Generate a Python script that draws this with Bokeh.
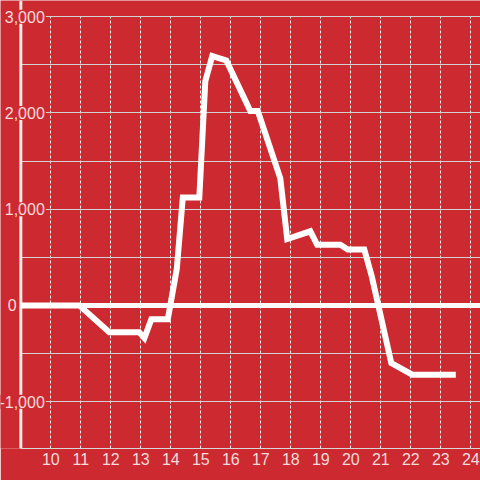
from bokeh.plotting import figure
from bokeh.models import Range1d, FixedTicker, Span
from bokeh.core.properties import value
from bokeh.embed import file_html
from bokeh.resources import INLINE

# ---- data ----
HOURS = [9, 10.95, 11.95, 12.95, 13.12, 13.35, 13.9, 14.2, 14.4, 14.95, 15.15, 15.38,
         15.85, 16.65, 16.9, 17.65, 17.88, 18.65, 18.88, 19.65, 19.9, 20.45, 20.7,
         21.35, 22.05, 23.5]
VALUES = [0, 0, -280, -280, -340, -145, -145, 380, 1120, 1120, 2330, 2590,
          2545, 2020, 2020, 1320, 690, 770, 630, 630, 580, 580, 300,
          -600, -720, -720]
X_TICKS = list(range(10, 25))
Y_TICKS = [-1000, 0, 1000, 2000, 3000]
Y_LABELS = ["-1,000", "0", "1,000", "2,000", "3,000"]
Y_GRID = [-1000, -500, 0, 500, 1000, 1500, 2000, 2500, 3000]

# ---- style ----
RED = "#cc2a30"
LABEL = "#f6dcdc"
FONT = "Liberation Sans"
AXIS_X = 9
X_START, X_END = 8.323, 24.323
Y_START, Y_END = -1487, 3168

p = figure(width=480, height=480, output_backend="svg", toolbar_location=None,
           x_range=Range1d(X_START, X_END), y_range=Range1d(Y_START, Y_END),
           y_axis_location=None,
           min_border_left=0, min_border_right=0, min_border_top=0, min_border_bottom=32,
           background_fill_color=RED, border_fill_color=RED, outline_line_color=None)

p.xaxis.ticker = FixedTicker(ticks=X_TICKS)
p.xaxis.bounds = (AXIS_X, X_END)
p.xaxis.axis_line_color = "#d6d6d6"
p.xaxis.axis_line_width = 1
p.xaxis.major_tick_line_color = None
p.xaxis.minor_tick_line_color = None
p.xaxis.major_tick_out = 0
p.xaxis.major_label_standoff = 4
p.xaxis.major_label_text_font = FONT
p.xaxis.major_label_text_font_size = "16px"
p.xaxis.major_label_text_color = LABEL

p.xgrid.ticker = FixedTicker(ticks=X_TICKS)
p.xgrid.grid_line_color = "#ececec"
p.xgrid.grid_line_width = 1
p.xgrid.grid_line_dash = "3 2"
p.xgrid.cross_bounds = (Y_START, 3000)

p.ygrid.ticker = FixedTicker(ticks=Y_GRID)
p.ygrid.grid_line_color = "#d2d2d2"
p.ygrid.grid_line_width = 1
p.ygrid.cross_bounds = (AXIS_X, X_END)

# vertical axis bar
p.add_layout(Span(location=AXIS_X, dimension="height", line_color="#f3eaea",
                  line_width=3, level="underlay"))

# y tick labels drawn over the axis bar
nz = [i for i, v in enumerate(Y_TICKS) if v != 0]
z = [i for i, v in enumerate(Y_TICKS) if v == 0]
p.text(x=[AXIS_X] * len(nz), y=[Y_TICKS[i] for i in nz], text=[Y_LABELS[i] for i in nz],
       x_offset=25, text_align="right", text_baseline="middle", text_font=value(FONT),
       text_font_size="16px", text_color=LABEL, text_line_height=1.0,
       background_fill_color=RED, padding=1)
p.text(x=[AXIS_X] * len(z), y=[Y_TICKS[i] for i in z], text=[Y_LABELS[i] for i in z],
       x_offset=-13, text_align="left", text_baseline="middle", text_font=value(FONT),
       text_font_size="16px", text_color=LABEL, text_line_height=1.0)

# zero line
p.ray(x=[AXIS_X], y=[0], length=0, angle=0, line_width=5, line_color="#fafafa")

# data line
p.line(HOURS, VALUES, line_width=6, line_color="white", line_join="miter", line_cap="butt")

open("out.html", "w").write(file_html(p, INLINE))
